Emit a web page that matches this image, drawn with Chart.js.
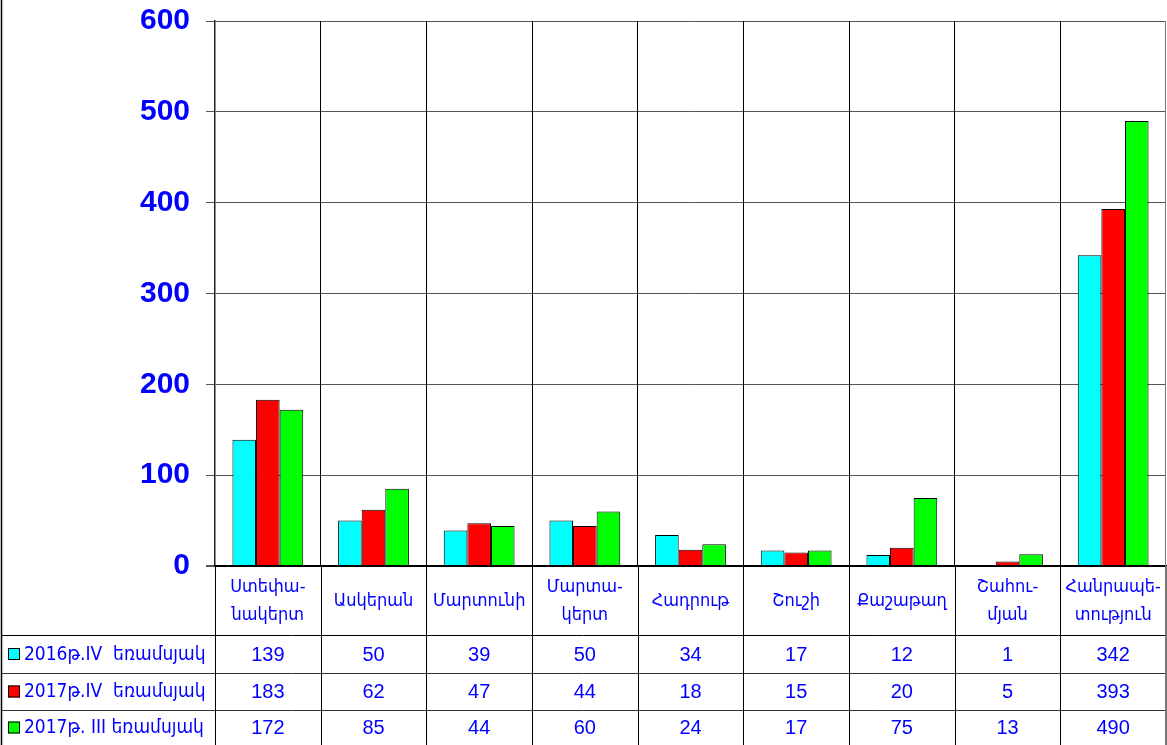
<!DOCTYPE html>
<html>
<head>
<meta charset="utf-8">
<script src="https://cdn.jsdelivr.net/npm/chart.js@4/dist/chart.umd.min.js"></script>
<style>
  html, body { margin: 0; padding: 0; background: #fff; }
  #wrap { width: 1167px; height: 745px; position: relative; }
</style>
</head>
<body>
<div id="wrap"><canvas id="c" width="1167" height="745" style="width:1167px;height:745px"></canvas></div>
<script>
const categories = [
  ['Ստեփա-', 'նակերտ'],
  'Ասկերան',
  'Մարտունի',
  ['Մարտա-', 'կերտ'],
  'Հադրութ',
  'Շուշի',
  'Քաշաթաղ',
  ['Շահու-', 'մյան'],
  ['Հանրապե-', 'տություն']
];
const seriesNames = ['2016թ.IV  եռամսյակ', '2017թ.IV  եռամսյակ', '2017թ. III եռամսյակ'];
const values2016IV = [139, 50, 39, 50, 34, 17, 12, 1, 342];
const values2017IV = [183, 62, 47, 44, 18, 15, 20, 5, 393];
const values2017III = [172, 85, 44, 60, 24, 17, 75, 13, 490];
const seriesColors = ['#00ffff', '#ff0000', '#00ff00'];
const yTicks = [0, 100, 200, 300, 400, 500, 600];

const seriesValues = [values2016IV, values2017IV, values2017III];
const BLUE = '#0000ff';
const ARM_FONT = '"DejaVu Sans Condensed", "DejaVu Sans", sans-serif';

const tablePlugin = {
  id: 'dataTable',
  afterDraw(chart) {
    const ctx = chart.ctx;
    const xs = chart.scales.x;
    const area = chart.chartArea;
    const n = categories.length;
    const rowTops = [635, 673, 710];
    const rowBottoms = [673, 710, 745];
    const leftX = 1.5;
    const rightX = area.right;
    ctx.save();

    // category labels (from the x scale positions)
    ctx.fillStyle = BLUE;
    ctx.textAlign = 'center';
    ctx.textBaseline = 'middle';
    ctx.font = '18px ' + ARM_FONT;
    const labelMid = (area.bottom + rowTops[0]) / 2 + 1;
    const lineGap = 28;
    xs.getLabels().forEach((lab, i) => {
      const x = xs.getPixelForValue(i);
      const lines = Array.isArray(lab) ? lab : [lab];
      const start = labelMid - (lines.length - 1) * lineGap / 2;
      lines.forEach((t, k) => ctx.fillText(t, x, start + k * lineGap));
    });

    // horizontal table lines
    ctx.lineWidth = 1;
    rowTops.forEach((y, i) => {
      ctx.beginPath();
      ctx.moveTo(leftX, y + 0.5);
      ctx.lineTo(rightX, y + 0.5);
      ctx.strokeStyle = i === 0 ? '#000' : '#333';
      ctx.stroke();
    });
    // vertical lines below plot area (category boundaries)
    for (let i = 0; i <= n; i++) {
      let x;
      if (i === 0) x = area.left;
      else if (i === n) x = area.right;
      else x = (xs.getPixelForValue(i - 1) + xs.getPixelForValue(i)) / 2;
      ctx.beginPath();
      ctx.moveTo(Math.round(x) + 0.5, area.bottom);
      ctx.lineTo(Math.round(x) + 0.5, 745);
      ctx.strokeStyle = (i === n) ? '#777' : '#000';
      ctx.stroke();
    }
    // right border of plot
    ctx.strokeStyle = '#777';
    ctx.beginPath();
    ctx.moveTo(area.right - 0.5, area.top);
    ctx.lineTo(area.right - 0.5, 745);
    ctx.stroke();
    // outer left frame
    ctx.strokeStyle = '#000';
    ctx.lineWidth = 1.5;
    ctx.beginPath();
    ctx.moveTo(leftX, 0);
    ctx.lineTo(leftX, 745);
    ctx.stroke();

    // legend keys and names, values
    ctx.lineWidth = 1;
    seriesNames.forEach((name, r) => {
      const cy = (rowTops[r] + rowBottoms[r]) / 2;
      ctx.fillStyle = seriesColors[r];
      ctx.fillRect(8, cy - 6, 12, 12);
      ctx.strokeStyle = '#000';
      ctx.strokeRect(8.5, cy - 5.5, 11, 11);
      ctx.fillStyle = BLUE;
      ctx.textAlign = 'left';
      ctx.font = '19px ' + ARM_FONT;
      ctx.fillText(name, 24, cy + 1);
      ctx.textAlign = 'center';
      ctx.font = '20px "Liberation Sans", Arial, sans-serif';
      seriesValues[r].forEach((v, i) => {
        ctx.fillText(String(v), xs.getPixelForValue(i), cy + 1);
      });
    });
    ctx.restore();
  }
};

new Chart(document.getElementById('c'), {
  type: 'bar',
  data: {
    labels: categories,
    datasets: seriesNames.map((name, i) => ({
      label: name,
      data: seriesValues[i],
      backgroundColor: seriesColors[i],
      borderColor: '#000',
      borderWidth: 1,
      categoryPercentage: 0.67,
      barPercentage: 1.0
    }))
  },
  options: {
    responsive: false,
    animation: false,
    devicePixelRatio: 1,
    layout: { padding: { top: 21, right: 1, left: 0, bottom: 0 } },
    plugins: { legend: { display: false }, tooltip: { enabled: false } },
    scales: {
      y: {
        min: 0,
        max: 600,
        afterBuildTicks(scale) { scale.ticks = yTicks.map(v => ({ value: v })); },
        afterFit(scale) { scale.width = 215; scale.paddingTop = 0; scale.paddingBottom = 0; },
        ticks: {
          color: BLUE,
          padding: 16,
          font: { family: '"Liberation Sans", Arial, sans-serif', size: 30, weight: 'bold' }
        },
        grid: {
          color: ctx => ctx.tick && ctx.tick.value === 0 ? '#000' : '#555',
          lineWidth: ctx => ctx.tick && ctx.tick.value === 0 ? 2 : 1,
          tickLength: 9,
          tickColor: '#555'
        },
        border: { color: '#222', width: 1.5 }
      },
      x: {
        afterFit(scale) { scale.height = 179; scale.paddingLeft = 0; scale.paddingRight = 0; },
        ticks: { display: false },
        grid: { color: '#000', lineWidth: 1, drawTicks: false, offset: true },
        border: { color: '#000', width: 2 }
      }
    }
  },
  plugins: [tablePlugin]
});
</script>
</body>
</html>
